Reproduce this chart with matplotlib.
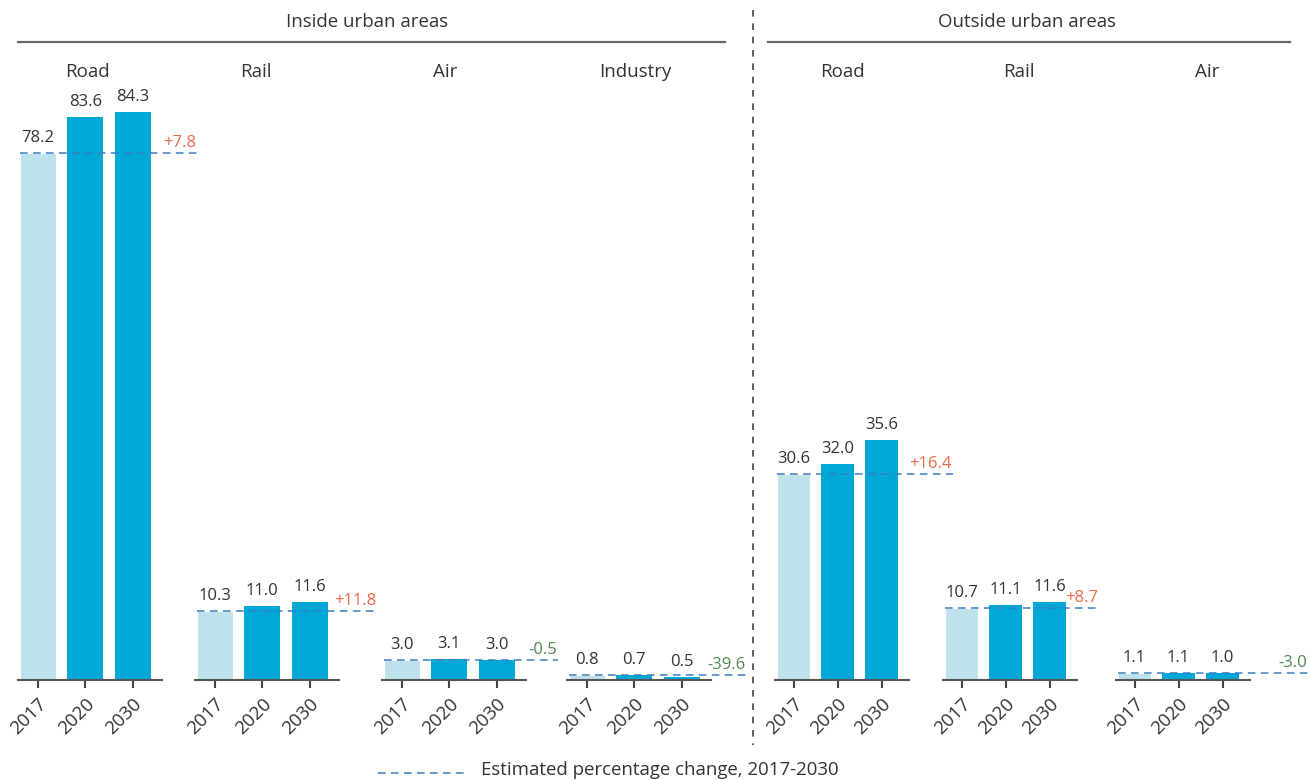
import matplotlib.pyplot as plt
from matplotlib.lines import Line2D

plt.rcParams['font.family'] = ['Open Sans', 'DejaVu Sans']

# data
years = ['2017', '2020', '2030']
panels = ['Road', 'Rail', 'Air', 'Industry', 'Road', 'Rail', 'Air']
values = [
    [78.2, 83.6, 84.3],
    [10.3, 11.0, 11.6],
    [3.0, 3.1, 3.0],
    [0.8, 0.7, 0.5],
    [30.6, 32.0, 35.6],
    [10.7, 11.1, 11.6],
    [1.1, 1.1, 1.0],
]
change = [7.8, 11.8, -0.5, -39.6, 16.4, 8.7, -3.0]

# layout (pixels)
W, H = 1309, 780
lefts = [18, 195, 382, 567, 775, 943, 1116]
widths = [144, 144, 144, 144, 134, 134, 134]
title_x = [1.04, 0.87, 0.91, 1.02, 1.1, 1.3, 1.64]
dash_end = [3.38, 3.43, 3.30, 3.38, 3.62, 3.12, 3.95]
base_y = 680
px_per_unit = 6.738
ymax = 90

light = '#bfe1eb'
dark = '#00a8d8'
dash_col = '#3a7fc0'
pos_col = '#ec6a45'
neg_col = '#4f8a4f'
txt = '#333333'

fig = plt.figure(figsize=(W / 100, H / 100), dpi=100)

for i, name in enumerate(panels):
    ax = fig.add_axes([lefts[i] / W, (H - base_y) / H, widths[i] / W,
                       ymax * px_per_unit / H])
    vals = values[i]
    ax.bar(range(3), vals, width=0.76, color=[light, dark, dark],
           edgecolor=['white', dark, dark], linewidth=[0.8, 0, 0], zorder=2)
    for x, v in enumerate(vals):
        ax.annotate(f'{v:.1f}', (x, v), xytext=(0, 5), textcoords='offset points',
                    ha='center', va='bottom', fontsize=12, color=txt)
    ax.plot([-0.38, dash_end[i]], [vals[0], vals[0]], ls=(0, (5, 3.5)),
            lw=1.1, color=dash_col, clip_on=False, zorder=3)
    c = change[i]
    ax.annotate(f'{c:+.1f}', (dash_end[i], vals[0]), xytext=(-1, 1.5),
                textcoords='offset points', ha='right', va='bottom',
                fontsize=12, color=pos_col if c > 0 else neg_col,
                annotation_clip=False)
    ax.text(title_x[i], (base_y - 72) / px_per_unit, name, ha='center',
            va='center', fontsize=13.5, color=txt)

    ax.set_xlim(-0.42, 2.62)
    ax.set_ylim(0, ymax)
    ax.set_xticks(range(3))
    ax.set_xticklabels(years, rotation=45, ha='right', rotation_mode='anchor',
                       fontsize=13.5, color=txt)
    ax.tick_params(axis='x', length=6, width=1.5, color='#444444', pad=5)
    ax.set_yticks([])
    for s in ['top', 'right', 'left']:
        ax.spines[s].set_visible(False)
    ax.spines['bottom'].set_color('#555555')
    ax.spines['bottom'].set_linewidth(1.5)
    ax.patch.set_alpha(0)

# group headings
fig.text(367 / W, 1 - 22 / H, 'Inside urban areas', ha='center', va='center',
         fontsize=13.4, color=txt)
fig.text(1027 / W, 1 - 22 / H, 'Outside urban areas', ha='center', va='center',
         fontsize=13.4, color=txt)
fig.add_artist(Line2D([18 / W, 725 / W], [1 - 42 / H, 1 - 42 / H],
                      color='#666666', lw=1.6))
fig.add_artist(Line2D([768 / W, 1290 / W], [1 - 42 / H, 1 - 42 / H],
                      color='#666666', lw=1.6))
fig.add_artist(Line2D([753 / W, 753 / W], [1 - 10 / H, 1 - 745 / H],
                      color='#444444', lw=1.2, ls=(0, (4, 4))))

# legend
fig.add_artist(Line2D([378 / W, 464 / W], [1 - 773 / H, 1 - 773 / H],
                      color=dash_col, lw=1.1, ls=(0, (5, 3.5))))
fig.text(481 / W, 1 - 770 / H, 'Estimated percentage change, 2017-2030',
         ha='left', va='center', fontsize=13.4, color=txt)

fig.savefig('out.png', dpi=100)
